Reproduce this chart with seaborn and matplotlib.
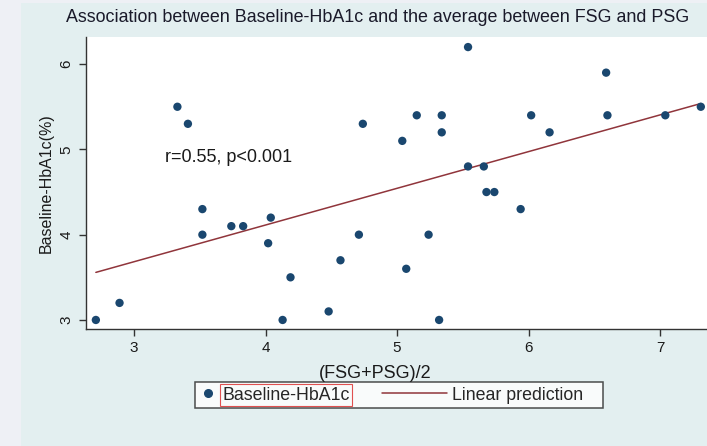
import seaborn as sns
import matplotlib.pyplot as plt
import matplotlib.patches as mpatches
from matplotlib.lines import Line2D
from matplotlib.legend_handler import HandlerLine2D
import pandas as pd

fsg_psg = [2.71, 2.89, 3.33, 3.41, 3.52, 3.52, 3.74, 3.83, 4.04, 4.02,
           4.19, 4.13, 4.48, 4.57, 4.71, 4.74, 5.04, 5.15, 5.07, 5.24,
           5.34, 5.34, 5.32, 5.54, 5.54, 5.66, 5.68, 5.74, 5.94, 6.02,
           6.16, 6.59, 6.60, 7.04, 7.31]
hba1c = [3.0, 3.2, 5.5, 5.3, 4.3, 4.0, 4.1, 4.1, 4.2, 3.9,
         3.5, 3.0, 3.1, 3.7, 4.0, 5.3, 5.1, 5.4, 3.6, 4.0,
         5.4, 5.2, 3.0, 6.2, 4.8, 4.8, 4.5, 4.5, 4.3, 5.4,
         5.2, 5.9, 5.4, 5.4, 5.5]
x_ticks = [3, 4, 5, 6, 7]
y_ticks = [3, 4, 5, 6]

df = pd.DataFrame({'x': fsg_psg, 'y': hba1c})

navy = '#1a476f'
maroon = '#90353b'
bg = '#e3eff0'


class HandlerLongLine(HandlerLine2D):
    # stretch the line sample to the left, into the column gap
    def create_artists(self, legend, orig_handle, xdescent, ydescent, width, height, fontsize, trans):
        arts = super().create_artists(legend, orig_handle, xdescent, ydescent,
                                      width, height, fontsize, trans)
        line = arts[0]
        y = line.get_ydata()[0]
        line.set_data([-xdescent - 2.7 * fontsize, -xdescent + width], [y, y])
        line.set_markevery(None)
        return arts


sns.set_theme(style='white')
plt.rcParams['font.family'] = ['Liberation Sans', 'DejaVu Sans']

fig = plt.figure(figsize=(7.07, 4.46), dpi=100)
fig.patch.set_facecolor(bg)
fig.patches.append(mpatches.Rectangle((0, 0), 21 / 707, 1, transform=fig.transFigure,
                                      facecolor='#eef0f5', edgecolor='none', zorder=0))
fig.patches.append(mpatches.Rectangle((0, 1 - 3 / 446), 1, 3 / 446, transform=fig.transFigure,
                                      facecolor='#eef0f5', edgecolor='none', zorder=0))

ax = fig.add_axes([86 / 707, 117 / 446, 1 - 86 / 707, 292 / 446])
ax.set_facecolor('white')

sns.regplot(data=df, x='x', y='y', ax=ax, scatter=False, ci=None, truncate=True,
            line_kws={'color': maroon, 'linewidth': 1.1})
sns.scatterplot(data=df, x='x', y='y', ax=ax, color=navy, s=36, edgecolor='none', zorder=3)

ax.set_xlim(2.635, 7.357)
ax.set_ylim(2.894, 6.318)
ax.set_xticks(x_ticks)
ax.set_yticks(y_ticks)
ax.tick_params(axis='both', direction='out', length=5, width=1, color='#333333',
               labelsize=11, labelcolor='#1a1a1a', bottom=True, left=True, pad=4)
for lab in ax.get_yticklabels():
    lab.set_rotation(90)
    lab.set_va('center')
for s in ['top', 'right']:
    ax.spines[s].set_visible(False)
for s in ['left', 'bottom']:
    ax.spines[s].set_color('#333333')
    ax.spines[s].set_linewidth(1)

ax.set_xlabel('(FSG+PSG)/2', fontsize=13, color='#1a1a1a', labelpad=3)
ax.xaxis.set_label_coords((375 - 86) / 621, -0.125)
ax.set_ylabel('Baseline-HbA1c(%)', fontsize=11.5, color='#1a1a1a', labelpad=4)
ax.text(3.236, 4.90, 'r=0.55, p<0.001', fontsize=13, color='#1a1a1a', va='center')

fig.text(0.534, 1 - 18 / 446, 'Association between Baseline-HbA1c and the average between FSG and PSG',
         ha='center', va='center', fontsize=12.9, color='#1a1a2a')

handles = [Line2D([], [], marker='o', color=navy, linestyle='none', markersize=5.5),
           Line2D([], [], color=maroon, linewidth=1.1)]
leg = fig.legend(handles, ['Baseline-HbA1c', 'Linear prediction   '], ncol=2,
                 loc='center left', bbox_to_anchor=(195 / 707, 1 - 395 / 446),
                 handler_map={handles[1]: HandlerLongLine()},
                 fontsize=12.8, frameon=True, fancybox=False, edgecolor='#222222',
                 handlelength=1.0, handletextpad=0.28, columnspacing=4.5,
                 borderpad=0.25, borderaxespad=0)
leg.get_frame().set_linewidth(1.1)
leg.get_frame().set_facecolor('white')
leg.get_texts()[0].set_bbox(dict(facecolor='none', edgecolor='#e05050', linewidth=0.8, pad=1.5))

fig.savefig('out.png', dpi=100, facecolor=fig.get_facecolor())
